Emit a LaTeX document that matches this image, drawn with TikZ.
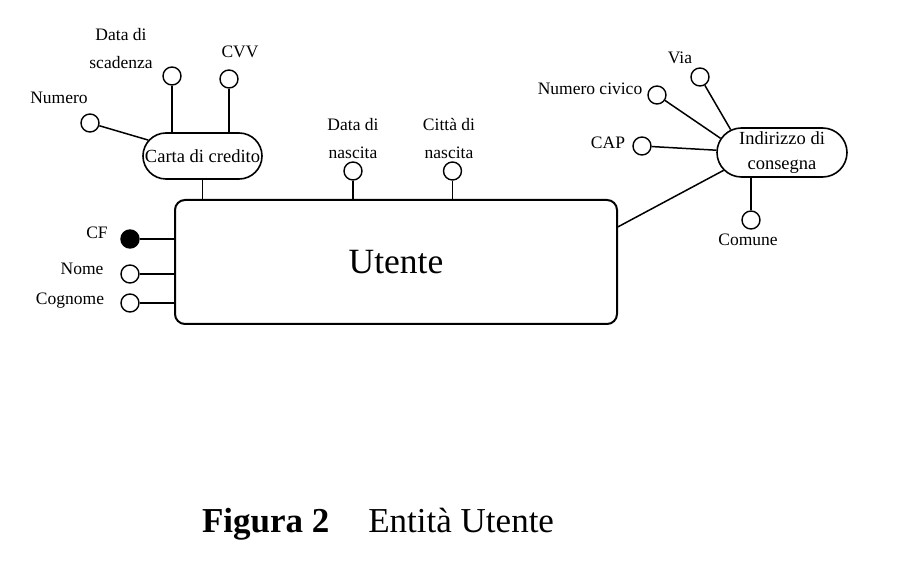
\documentclass[tikz,border=0pt]{standalone}
\usepackage{fontspec}
\setmainfont{Liberation Serif}
\usetikzlibrary{shapes.misc}
\tikzset{
  attr/.style={circle, draw, line width=1.4pt, minimum size=18pt, inner sep=0pt},
  keyattr/.style={attr, fill=black},
  lbl/.style={inner sep=0pt, font=\fontsize{17.5}{28}\selectfont, text height=12.5pt, text depth=3.5pt},
  lbltwo/.style={inner sep=0pt, font=\fontsize{17.5}{28}\selectfont, align=center},
  pill/.style={rounded rectangle, draw, line width=1.6pt, inner sep=1pt, font=\fontsize{18.5}{25}\selectfont, align=center},
  conn/.style={line width=1.5pt}
}
\begin{document}
\begin{tikzpicture}[x=1pt,y=-1pt]
\useasboundingbox (0,0) rectangle (898,588);
%
\node (utente) [draw, line width=2pt, rounded corners=10pt, minimum width=442pt, minimum height=124pt, font=\fontsize{35.5}{40}\selectfont] at (396,262) {Utente};
%
\node (carta) [pill, minimum width=121pt, minimum height=46pt] at (202.5,156) {Carta di credito};
\node (numero) [attr] at (90,123) {};
\node (scadenza) [attr] at (172,76) {};
\node (cvv) [attr] at (229,79) {};
\node (lnumero) [lbl] at (59,99) {Numero};
\node (lscadenza) [lbltwo] at (121,49) {Data di\\scadenza};
\node (lcvv) [lbl] at (240,53) {CVV};
\draw[conn] (numero) -- (carta);
\draw[conn] (scadenza.south) -- (scadenza.south |- carta.north);
\draw[conn] (cvv.south) -- (cvv.south |- carta.north);
\draw[conn] (carta.south) -- (carta.south |- utente.north);
%
\node (dnascita) [attr] at (353,171) {};
\node (cnascita) [attr] at (452.5,171) {};
\node (ldnascita) [lbltwo] at (353,139) {Data di\\nascita};
\node (lcnascita) [lbltwo] at (449,139) {Città di\\nascita};
\draw[conn] (dnascita.south) -- (dnascita.south |- utente.north);
\draw[conn] (cnascita.south) -- (cnascita.south |- utente.north);
%
\node (cf) [keyattr] at (130,239) {};
\node (nome) [attr] at (130,274) {};
\node (cognome) [attr] at (130,303) {};
\node (lcf) [lbl] at (97,234) {CF};
\node (lnome) [lbl] at (82,270) {Nome};
\node (lcognome) [lbl] at (70,300) {Cognome};
\draw[conn] (cf.east) -- (cf.east -| utente.west);
\draw[conn] (nome.east) -- (nome.east -| utente.west);
\draw[conn] (cognome.east) -- (cognome.east -| utente.west);
%
\node (indirizzo) [pill, minimum width=132pt, minimum height=49pt] at (782,152.5) {Indirizzo di\\consegna};
\node (via) [attr] at (700,77) {};
\node (civico) [attr] at (657,95) {};
\node (cap) [attr] at (642,146) {};
\node (comune) [attr] at (751,220) {};
\node (lvia) [lbl] at (680,59) {Via};
\node (lcivico) [lbl] at (590,90) {Numero civico};
\node (lcap) [lbl] at (608,144) {CAP};
\node (lcomune) [lbl] at (748,241) {Comune};
\draw[conn] (via) -- (indirizzo.156);
\draw[conn] (civico) -- (indirizzo.167);
\draw[conn] (cap) -- (indirizzo.178);
\draw[conn] (comune.north) -- (comune.north |- indirizzo.south);
\draw[conn] (utente.9.3) -- (indirizzo.197);
%
\node (didascalia) [anchor=base, font=\fontsize{35}{40}\selectfont] at (378,532) {\textbf{Figura 2}\hspace{39pt}Entità Utente};
\end{tikzpicture}
\end{document}
